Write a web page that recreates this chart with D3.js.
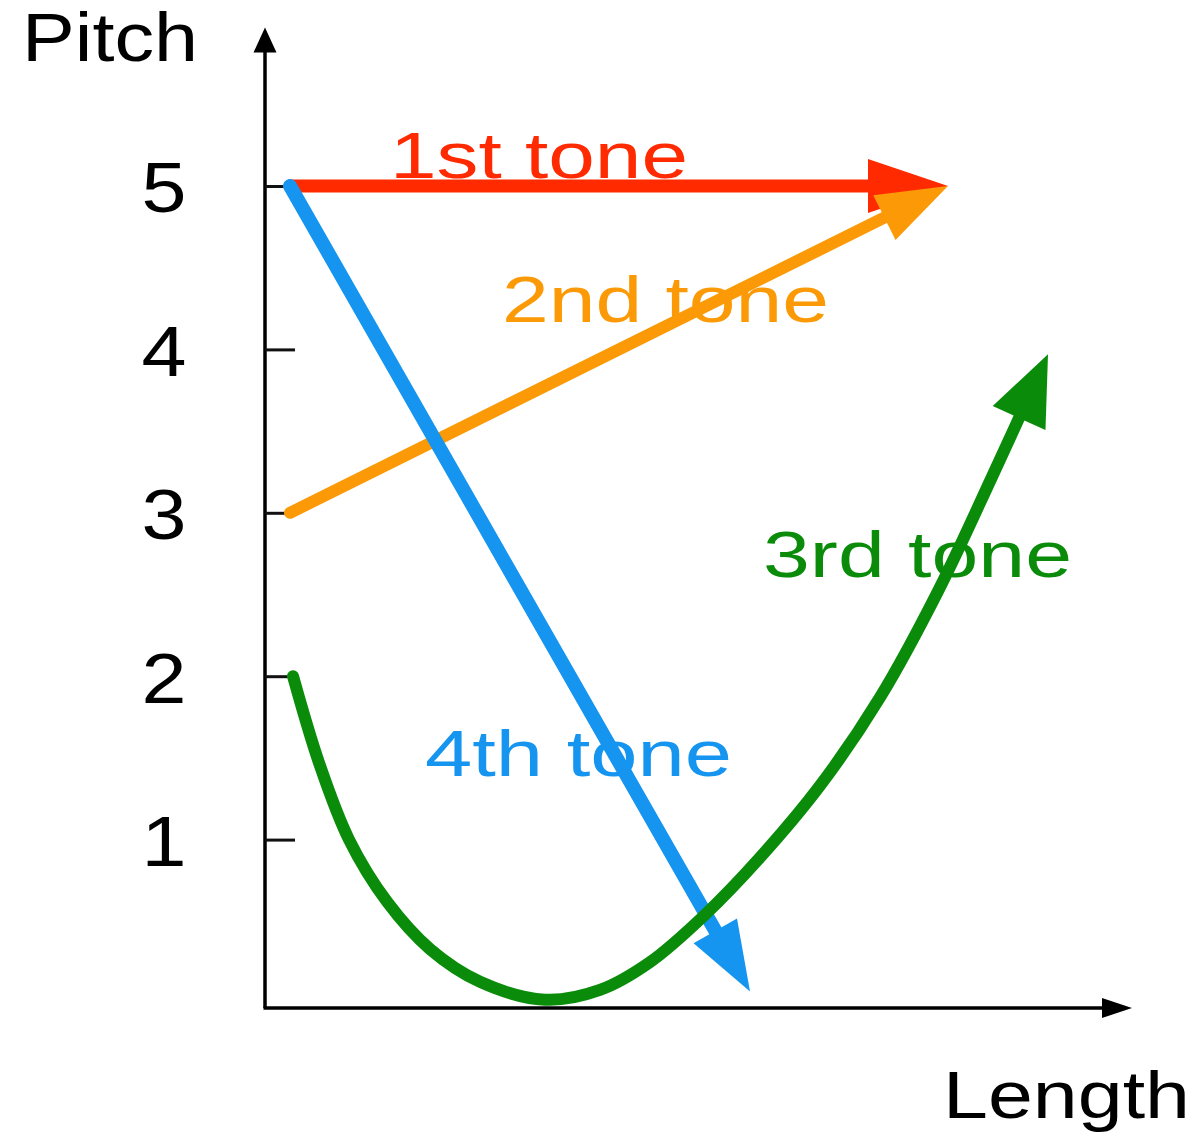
<!DOCTYPE html>
<html>
<head>
<meta charset="utf-8">
<script src="https://cdn.jsdelivr.net/npm/d3@7"></script>
<style>
  html, body { margin: 0; padding: 0; background: #fff; }
  text { font-family: "Liberation Sans", Arial, Helvetica, sans-serif; }
</style>
</head>
<body>
<svg id="chart" width="1200" height="1137"></svg>
<script>
// pitch levels shown on the vertical axis
var pitchTicks = [1, 2, 3, 4, 5];

// tone contours: [length, pitch]
var tone1 = [[2.5, 5], [68.3, 5]];
var tone2 = [[2.5, 3], [68.3, 5]];
var tone4 = [[2.5, 5], [48.5, 0.07]];
var tone3 = [[2.8, 2.0], [5.4, 1.47], [8.4, 1.0], [12.2, 0.62], [16.5, 0.33], [21.5, 0.13],
    [28.0, 0.02], [33.5, 0.08], [38.5, 0.25], [44.0, 0.54], [49.5, 0.89], [55.5, 1.33],
    [61.5, 1.87], [67.3, 2.52], [72.7, 3.22], [78.3, 3.97]];

var toneNames = ["1st tone", "2nd tone", "3rd tone", "4th tone"];
var toneColors = ["#ff2a00", "#fb9a06", "#0a8c0a", "#1595f0"];

var svg = d3.select("#chart");
var x = d3.scaleLinear().domain([0, 87]).range([265, 1135]);
var y = d3.scaleLinear().domain([0, 5]).range([1003, 186]);

// draws a filled triangle with its tip at p1, pointing away from p0
function arrowHead(g, p0, p1, len, half, color) {
    var dx = p1[0] - p0[0], dy = p1[1] - p0[1];
    var d = Math.sqrt(dx * dx + dy * dy);
    var ux = dx / d, uy = dy / d;
    var bx = p1[0] - ux * len, by = p1[1] - uy * len;
    g.append("polygon")
        .attr("points", [p1, [bx - uy * half, by + ux * half], [bx + uy * half, by - ux * half]].join(" "))
        .attr("fill", color);
}

// axes
var axes = svg.append("g");
var ox = x(0), oy = y(-0.03);
axes.append("line").attr("x1", ox).attr("y1", oy).attr("x2", ox).attr("y2", y(5.9))
    .attr("stroke", "#000").attr("stroke-width", 3.5);
arrowHead(axes, [ox, oy], [ox, y(5.97)], 25, 11.5, "#000");
axes.append("line").attr("x1", ox - 1.5).attr("y1", oy).attr("x2", x(84)).attr("y2", oy)
    .attr("stroke", "#000").attr("stroke-width", 3.5);
arrowHead(axes, [ox, oy], [x(86.7), oy], 30, 10, "#000");

var yAxis = svg.append("g")
    .attr("transform", "translate(" + ox + ",0)")
    .call(d3.axisLeft(y).tickValues(pitchTicks).tickSize(-30).tickFormat(d3.format("d")));
yAxis.select(".domain").remove();
yAxis.selectAll(".tick line").attr("stroke", "#111").attr("stroke-width", 3);
yAxis.selectAll(".tick text")
    .attr("x", 164 - ox)
    .attr("dy", "0.37em")
    .attr("text-anchor", "middle")
    .attr("fill", "#000")
    .style("font-size", "70px")
    .style("font-family", "'Liberation Sans', Arial, sans-serif")
    .attr("textLength", 45)
    .attr("lengthAdjust", "spacingAndGlyphs");

// axis titles
svg.append("text").attr("x", 22).attr("y", 61).text("Pitch")
    .style("font-size", "68px").attr("textLength", 176).attr("lengthAdjust", "spacingAndGlyphs");
svg.append("text").attr("x", 943).attr("y", 1118).text("Length")
    .style("font-size", "67px").attr("textLength", 247).attr("lengthAdjust", "spacingAndGlyphs");

// tone labels
var labels = [
    {name: toneNames[0], color: toneColors[0], x: 390, y: 178, w: 298},
    {name: toneNames[1], color: toneColors[1], x: 502, y: 322, w: 327},
    {name: toneNames[2], color: toneColors[2], x: 763, y: 577, w: 309},
    {name: toneNames[3], color: toneColors[3], x: 425, y: 776, w: 307}
];
svg.append("g").selectAll("text")
    .data(labels)
    .enter()
    .append("text")
    .attr("x", function (d) { return d.x; })
    .attr("y", function (d) { return d.y; })
    .attr("fill", function (d) { return d.color; })
    .style("font-size", "64px")
    .attr("textLength", function (d) { return d.w; })
    .attr("lengthAdjust", "spacingAndGlyphs")
    .text(function (d) { return d.name; });

// tone contours, drawn in this order so overlaps match
var tones = [
    {data: tone1, color: toneColors[0], width: 13, curve: d3.curveLinear, len: 80, half: 27},
    {data: tone2, color: toneColors[1], width: 12, curve: d3.curveLinear, len: 71, half: 25},
    {data: tone4, color: toneColors[3], width: 14, curve: d3.curveLinear, len: 70, half: 25},
    {data: tone3, color: toneColors[2], width: 12, curve: d3.curveCatmullRom.alpha(0.5), len: 70, half: 29}
];

tones.forEach(function (t) {
    var line = d3.line()
        .x(function (d) { return x(d[0]); })
        .y(function (d) { return y(d[1]); })
        .curve(t.curve);
    var g = svg.append("g");
    var path = g.append("path")
        .attr("d", line(t.data))
        .attr("fill", "none")
        .attr("stroke", t.color)
        .attr("stroke-width", t.width)
        .attr("stroke-linecap", "round");
    var node = path.node();
    var total = node.getTotalLength();
    path.attr("stroke-dasharray", (total - t.len * 0.6) + " " + total);
    var tip = node.getPointAtLength(total);
    var back = node.getPointAtLength(total - 20);
    arrowHead(g, [back.x, back.y], [tip.x, tip.y], t.len, t.half, t.color);
});
</script>
</body>
</html>
